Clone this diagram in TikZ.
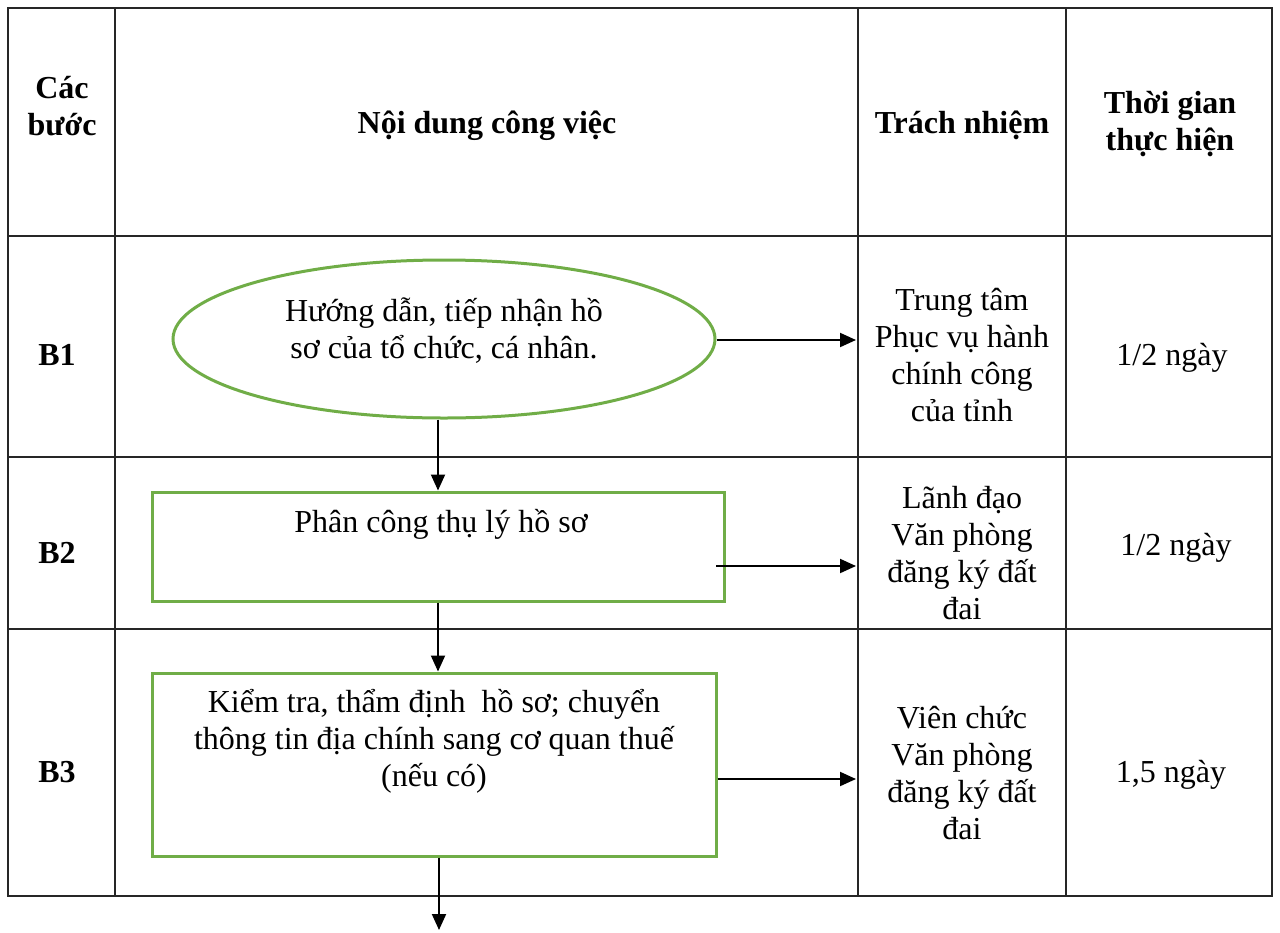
\documentclass[tikz,border=0pt]{standalone}
\usepackage{fontspec}
\setmainfont{Liberation Serif}
\usetikzlibrary{arrows.meta,shapes.geometric}
\definecolor{lgreen}{RGB}{112,173,71}

\begin{document}
\begin{tikzpicture}[x=1pt, y=-1pt,
	line/.style = {line width=2pt, color=black!85},
	greenbox/.style = {draw=lgreen, line width=3pt, inner sep=0pt},
	arr/.style = {-{Triangle[length=16pt,width=14pt]}, line width=2pt},
	txt/.style = {font=\fontsize{32}{37}\selectfont, align=center, inner sep=0pt},
	head/.style = {txt, font=\fontsize{32}{37}\selectfont\bfseries}]
	\useasboundingbox (0,0) rectangle (1280,932);
	%table
	\draw[line] (8,8) rectangle (1272,896);
	\foreach \x in {115, 858, 1066}
	\draw[line] (\x,8) -- (\x,896);
	\foreach \y in {236, 457, 629}
	\draw[line] (8,\y) -- (1272,\y);
	
	%header
	\node[head] (steps) at (62,106) {Các\\bước};
	\node[head, anchor=base] (content) at (487,133) {Nội dung công việc};
	\node[head, anchor=base] (resp) at (962,133) {Trách nhiệm};
	\node[head] (time) at (1170,124) {Thời gian\\thực hiện};
	\foreach \n/\y in {1/365, 2/563, 3/782}
	\node[head, anchor=base] (s\n) at (57,\y) {B\n};
	
	%shapes
	\node[greenbox, ellipse, minimum width=542pt, minimum height=158pt] (e1) at (444,339) {};
	\node[greenbox, rectangle, minimum width=572pt, minimum height=109pt] (b2) at (438,546.5) {};
	\node[greenbox, rectangle, minimum width=564pt, minimum height=183pt] (b3) at (434,764.5) {};
	\node[txt] (t1) at (444,331) {Hướng dẫn, tiếp nhận hồ\\sơ của tổ chức, cá nhân.};
	\node[txt, anchor=base] (t2) at (441,532) {Phân công thụ lý hồ sơ};
	\node[txt] (t3) at (434,741) {Kiểm tra, thẩm định\ \ hồ sơ; chuyển\\thông tin địa chính sang cơ quan thuế\\(nếu có)};
	
	%responsibility and time
	\node[txt] (p1) at (962,355) {Trung tâm\\Phục vụ hành\\chính công\\của tỉnh};
	\node[txt] (p2) at (962,553) {Lãnh đạo\\Văn phòng\\đăng ký đất\\đai};
	\node[txt] (p3) at (962,773) {Viên chức\\Văn phòng\\đăng ký đất\\đai};
	\node[txt, anchor=base] (d1) at (1172,365) {1/2 ngày};
	\node[txt, anchor=base] (d2) at (1176,555) {1/2 ngày};
	\node[txt, anchor=base] (d3) at (1171,782) {1,5 ngày};
	
	%arrows
	\coordinate (r1) at (856,340);
	\coordinate (r2) at (856,566);
	\coordinate (r3) at (856,779);
	\coordinate (a2) at (716,566);
	\coordinate (out) at (439,930);
	\draw[arr] (e1.east |- r1) -- (r1);
	\draw[arr] (a2) -- (r2);
	\draw[arr] (b3.east |- r3) -- (r3);
	\draw[arr] (b2.north |- e1.south) -- (b2.north);
	\draw[arr] (b2.south) -- (b2.south |- b3.north);
	\draw[arr] (b3.south -| out) -- (out);
\end{tikzpicture}
\end{document}
